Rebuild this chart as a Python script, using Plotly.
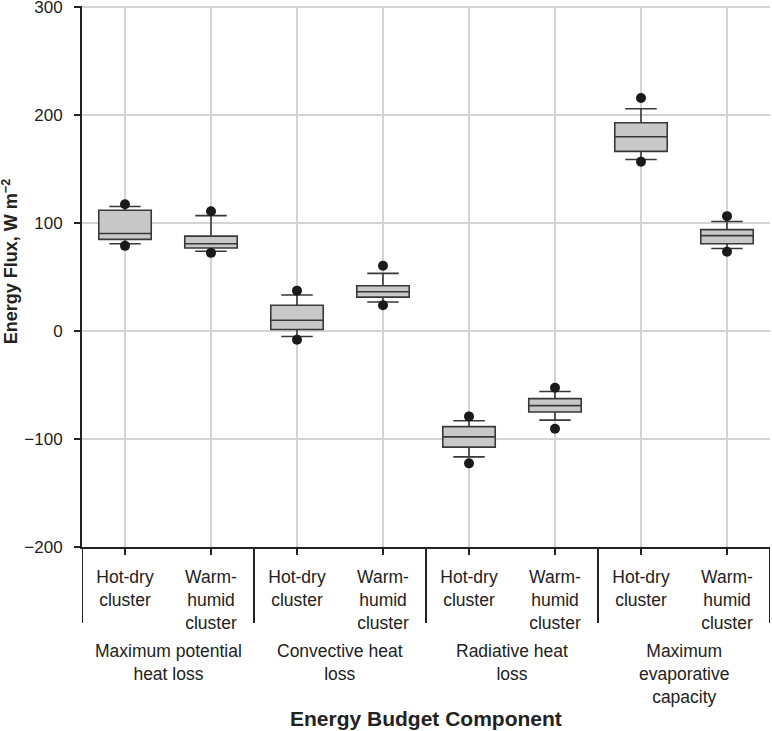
import plotly.graph_objects as go

# categories (position order on the x axis)
clusters = ["Hot-dry<br>cluster", "Warm-<br>humid<br>cluster"] * 4
groups = ["Maximum potential<br>heat loss", "Convective heat<br>loss",
          "Radiative heat<br>loss", "Maximum<br>evaporative<br>capacity"]

# box statistics (W m-2)
q1 = [85, 77, 1.5, 31.5, -107.5, -75, 166.5, 81]
median = [90.5, 81, 10, 36.5, -98, -69, 180, 88.5]
q3 = [112, 88, 24, 42, -88.5, -62.5, 193, 94]
whisk_lo = [81, 74, -5, 27, -116.5, -82.5, 159, 76.5]
whisk_hi = [115.5, 107, 33.5, 53.5, -83, -56, 206, 101.5]
dot_lo = [79, 72.5, -8, 24, -122.5, -90.5, 157, 73.5]
dot_hi = [117.5, 111, 37.5, 60.5, -79, -52.5, 216, 106.5]

ytick_vals = [-200, -100, 0, 100, 200, 300]
ytick_text = ["\u2212200", "\u2212100", "0", "100", "200", "300"]

pos = list(range(len(clusters)))
font = "Liberation Sans, Arial, sans-serif"
ink = "#222222"

fig = go.Figure()

fig.add_trace(go.Box(
    x=pos, q1=q1, median=median, q3=q3,
    lowerfence=whisk_lo, upperfence=whisk_hi,
    width=0.61, whiskerwidth=0.6,
    fillcolor="#c8c8c8", line=dict(color="#383838", width=1.6),
    boxpoints=False, hoverinfo="skip",
))

# 5th / 95th percentile dots
fig.add_trace(go.Scatter(
    x=pos + pos, y=dot_lo + dot_hi, mode="markers",
    marker=dict(color="#1a1a1a", size=10), cliponaxis=False, hoverinfo="skip",
))

# group dividers below the axis
for b in range(len(groups) + 1):
    fig.add_shape(type="line", xref="x", yref="paper",
                  x0=2 * b - 0.5, x1=2 * b - 0.5, y0=0, y1=-0.1404,
                  line=dict(color=ink, width=2))

# group labels
for g, name in enumerate(groups):
    fig.add_annotation(x=2 * g + 0.5, y=-0.17, xref="x", yref="paper",
                       text=name, showarrow=False, yanchor="top",
                       font=dict(family=font, size=17.5, color=ink))

# axis titles
fig.add_annotation(x=0.5, y=-0.3178, xref="paper", yref="paper",
                   text="<b>Energy Budget Component</b>", showarrow=False,
                   xanchor="center", yanchor="middle",
                   font=dict(family=font, size=21, color=ink))
fig.add_annotation(x=0, y=0.5265, xref="paper", yref="paper", xshift=-72,
                   text="<b>Energy Flux, W m<sup>\u22122</sup></b>", showarrow=False,
                   textangle=-90, xanchor="center", yanchor="middle",
                   font=dict(family=font, size=18, color=ink))

fig.update_layout(
    width=772, height=731,
    margin=dict(l=82, r=2, t=5.7, b=184),
    paper_bgcolor="white", plot_bgcolor="white",
    showlegend=False,
    font=dict(family=font, size=17, color=ink),
    xaxis=dict(
        range=[-0.5, 7.5], tickvals=pos, ticktext=clusters,
        showgrid=True, gridcolor="#d4d4d4", gridwidth=1.5,
        showline=True, linecolor=ink, linewidth=2,
        ticks="outside", ticklen=6, tickwidth=2, tickcolor=ink,
        ticklabelstandoff=7, zeroline=False, automargin=False,
        tickfont=dict(family=font, size=17.5, color=ink),
    ),
    yaxis=dict(
        range=[-200, 301.2], tickvals=ytick_vals, ticktext=ytick_text,
        showgrid=True, gridcolor="#d4d4d4", gridwidth=1.5,
        showline=True, linecolor=ink, linewidth=2,
        ticks="outside", ticklen=6, tickwidth=2, tickcolor=ink,
        ticklabelstandoff=8, zeroline=False, automargin=False,
        ticklabeloverflow="allow",
        tickfont=dict(family=font, size=17, color=ink),
    ),
)

fig.write_html("out.html", config={"displayModeBar": False},
               post_script="document.body.style.margin='0';"
                           "document.body.style.overflow='hidden';")
